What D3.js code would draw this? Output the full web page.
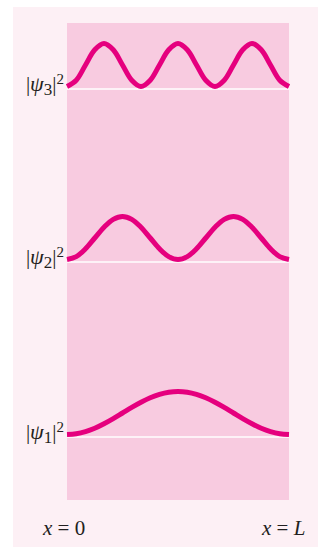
<!DOCTYPE html>
<html>
<head>
<meta charset="utf-8">
<script src="https://cdn.jsdelivr.net/npm/d3@7"></script>
<style>
  html, body { margin: 0; padding: 0; background: #ffffff; }
  svg { display: block; }
</style>
</head>
<body>
<svg id="chart" width="320" height="547"></svg>
<script>
// ---- data (probability densities, normalised to peak = 1) ----
const xPositions = d3.range(0, 25).map(i => i / 24); // x / L
const psi1 = [0, 0.017, 0.067, 0.146, 0.25, 0.37, 0.5, 0.63, 0.75, 0.854, 0.933, 0.983, 1,
              0.983, 0.933, 0.854, 0.75, 0.63, 0.5, 0.37, 0.25, 0.146, 0.067, 0.017, 0];
const psi2 = [0, 0.067, 0.25, 0.5, 0.75, 0.933, 1, 0.933, 0.75, 0.5, 0.25, 0.067, 0,
              0.067, 0.25, 0.5, 0.75, 0.933, 1, 0.933, 0.75, 0.5, 0.25, 0.067, 0];
const psi3 = [0, 0.146, 0.5, 0.854, 1, 0.854, 0.5, 0.146, 0,
              0.146, 0.5, 0.854, 1, 0.854, 0.5, 0.146, 0,
              0.146, 0.5, 0.854, 1, 0.854, 0.5, 0.146, 0];
const seriesNames = ["3", "2", "1"];
const seriesValues = [psi3, psi2, psi1];
const xTickLabels = ["0", "L"];

// ---- layout ----
const svg = d3.select("#chart");
const outer = { x0: 13, x1: 318, y0: 7, y1: 547 };
const inner = { x0: 67, x1: 289, y0: 23, y1: 500 };
const baselines = [89, 262, 437];   // white zero lines
const amp = 43;
const stroke = 5;

svg.append("rect")
  .attr("x", outer.x0).attr("y", outer.y0)
  .attr("width", outer.x1 - outer.x0).attr("height", outer.y1 - outer.y0)
  .attr("fill", "#fdf0f5");

svg.append("rect")
  .attr("x", inner.x0).attr("y", inner.y0)
  .attr("width", inner.x1 - inner.x0).attr("height", inner.y1 - inner.y0)
  .attr("fill", "#f8cbe0");

const x = d3.scaleLinear().domain([0, 1]).range([inner.x0, inner.x1]);

seriesValues.forEach((vals, i) => {
  const base = baselines[i];
  const y = d3.scaleLinear().domain([0, 1]).range([base - stroke / 2, base - stroke / 2 - amp]);

  // white zero line
  svg.append("line")
    .attr("x1", x(0)).attr("x2", x(1))
    .attr("y1", base).attr("y2", base)
    .attr("stroke", "#ffffff").attr("stroke-width", 1.5);

  const line = d3.line()
    .x((d, k) => x(xPositions[k]))
    .y(d => y(d))
    .curve(d3.curveCatmullRom.alpha(0.5));

  svg.append("path")
    .datum(vals)
    .attr("d", line)
    .attr("fill", "none")
    .attr("stroke", "#e5007e")
    .attr("stroke-width", stroke)
    .attr("stroke-linecap", "butt");

  // label |ψn|²
  const t = svg.append("text")
    .attr("x", 64).attr("y", base + 2)
    .attr("text-anchor", "end")
    .attr("font-family", "'Liberation Serif', 'DejaVu Serif', serif")
    .attr("font-size", 21)
    .attr("fill", "#231f20");
  t.append("tspan").text("|");
  t.append("tspan").attr("font-style", "italic").attr("font-size", 22).text("ψ");
  t.append("tspan").attr("dy", 4).attr("font-size", 17).text(seriesNames[i]);
  t.append("tspan").attr("dy", -4).text("|");
  t.append("tspan").attr("dy", -7).attr("font-size", 15).text("2");
});

// bottom labels x = 0, x = L
const tickPos = [0, 1];
tickPos.forEach((p, i) => {
  const t = svg.append("text")
    .attr("x", i === 0 ? x(p) - 24 : x(p) - 27)
    .attr("y", 535)
    .attr("font-family", "'Liberation Serif', 'DejaVu Serif', serif")
    .attr("font-size", 21)
    .attr("fill", "#231f20");
  t.append("tspan").attr("font-style", "italic").text("x");
  t.append("tspan").text(" = ");
  t.append("tspan").attr("font-style", i === 1 ? "italic" : "normal").text(xTickLabels[i]);
});
</script>
</body>
</html>
